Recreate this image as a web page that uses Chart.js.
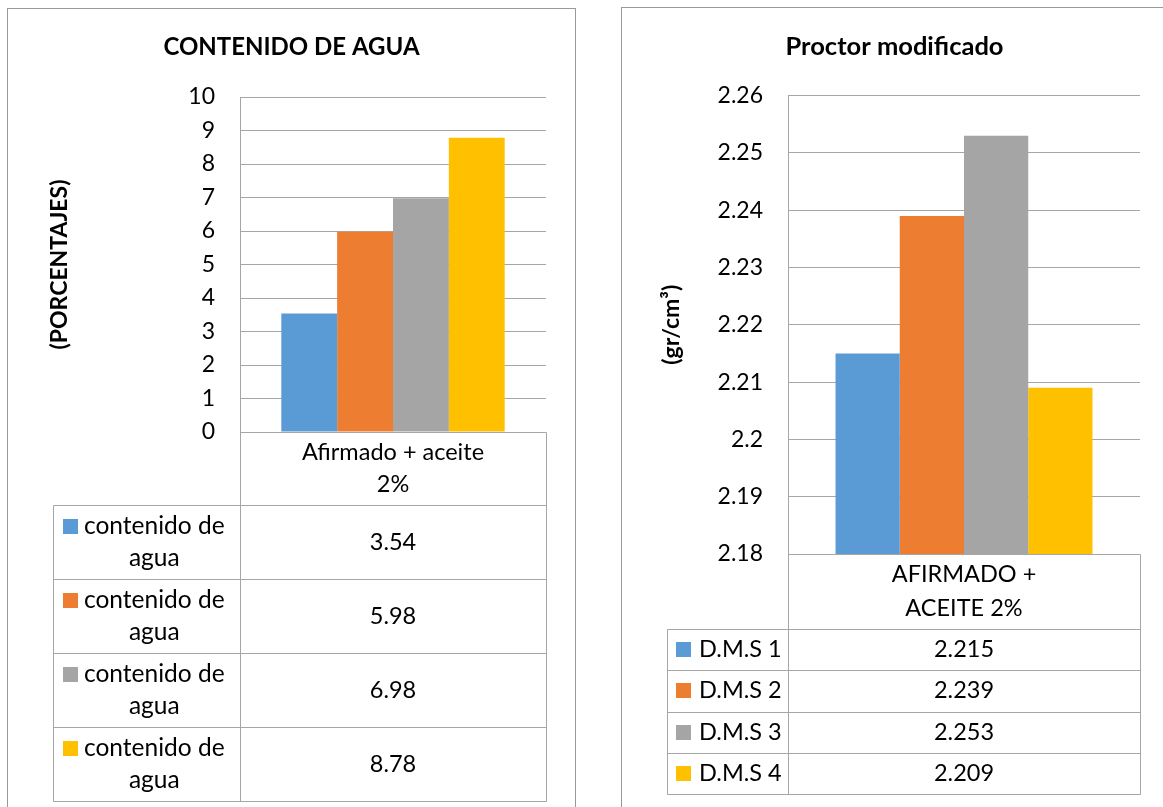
<!DOCTYPE html>
<html>
<head>
<meta charset="utf-8">
<title>Contenido de agua y Proctor modificado</title>
<script src="https://cdn.jsdelivr.net/npm/chart.js@4/dist/chart.umd.min.js"></script>
<style>
  html, body { margin: 0; padding: 0; background: #fff; width: 1163px; height: 807px; overflow: hidden; }
  .panel { position: absolute; border: 1px solid #9a9a9a; background: #fff; box-sizing: border-box; }
  #panelAgua { left: 7px; top: 8px; width: 569px; height: 830px; }
  #panelProctor { left: 621px; top: 7px; width: 580px; height: 830px; }
  .panel canvas { position: absolute; left: 0; top: 0; }
</style>
</head>
<body>
<div class="panel" id="panelAgua"><canvas id="chartAgua" width="567" height="800"></canvas></div>
<div class="panel" id="panelProctor"><canvas id="chartProctor" width="545" height="799"></canvas></div>

<script>
// ---- Data ----
const aguaCategories = [['Afirmado + aceite', '2%']];
const aguaSeriesNames = ['contenido de agua', 'contenido de agua', 'contenido de agua', 'contenido de agua'];
const aguaValues = [3.54, 5.98, 6.98, 8.78];
const aguaTicks = { min: 0, max: 10, step: 1 };

const proctorCategories = [['AFIRMADO +', 'ACEITE 2%']];
const proctorSeriesNames = ['D.M.S 1', 'D.M.S 2', 'D.M.S 3', 'D.M.S 4'];
const proctorValues = [2.215, 2.239, 2.253, 2.209];
const proctorTicks = { min: 2.18, max: 2.26, step: 0.01 };

const seriesColors = ['#5b9bd5', '#ed7d31', '#a5a5a5', '#ffc000'];

// ---- Styling ----
const FONT = 'Lato, "Open Sans", sans-serif';
const LINE = '#a6a6a6';
const TEXT = '#000000';

// Draws the data table (category header + one row per series) under the plot area.
const dataTablePlugin = {
  id: 'dataTable',
  afterDraw(chart, args, opts) {
    const { ctx, chartArea } = chart;
    const x0 = chartArea.left;
    const x1 = chartArea.right;
    const xl = opts.legendLeft;
    const top = chartArea.bottom;
    const headerBottom = top + opts.headerHeight;
    const n = chart.data.datasets.length;
    const bottom = headerBottom + n * opts.rowHeight;

    ctx.save();
    ctx.strokeStyle = LINE;
    ctx.lineWidth = 1;
    const line = (ax, ay, bx, by) => {
      ctx.beginPath();
      ctx.moveTo(Math.round(ax) + 0.5, Math.round(ay) + 0.5);
      ctx.lineTo(Math.round(bx) + 0.5, Math.round(by) + 0.5);
      ctx.stroke();
    };

    // grid of the table
    line(x0, top, x1, top);
    line(x0, top, x0, bottom);
    line(x1, top, x1, bottom);
    line(xl, headerBottom, xl, bottom);
    for (let i = 0; i <= n; i++) {
      const y = headerBottom + i * opts.rowHeight;
      line(xl, y, x1, y);
    }

    ctx.fillStyle = TEXT;
    ctx.textBaseline = 'middle';
    ctx.textAlign = 'center';

    // category header
    ctx.font = opts.fontSize + 'px ' + FONT;
    const cat = chart.data.labels[0];
    const catLines = Array.isArray(cat) ? cat : [cat];
    const cx = (x0 + x1) / 2;
    const hy = (top + headerBottom) / 2 - (catLines.length - 1) * opts.lineSpacing / 2;
    catLines.forEach((t, k) => ctx.fillText(t, cx, hy + k * opts.lineSpacing));

    // series rows
    const textLeft = xl + opts.swatchInset + opts.swatchSize + opts.swatchGap;
    const maxW = x0 - textLeft - 4;
    chart.data.datasets.forEach((ds, i) => {
      const rowTop = headerBottom + i * opts.rowHeight;
      const rowMid = rowTop + opts.rowHeight / 2;

      // wrap series name into the legend column
      ctx.font = opts.labelSize + 'px ' + FONT;
      const words = ds.label.split(' ');
      const lines = [];
      let cur = '';
      words.forEach(w => {
        const test = cur ? cur + ' ' + w : w;
        if (cur && ctx.measureText(test).width > maxW) { lines.push(cur); cur = w; }
        else cur = test;
      });
      if (cur) lines.push(cur);

      const blockW = Math.max(...lines.map(l => ctx.measureText(l).width));
      const firstY = rowMid - (lines.length - 1) * opts.lineSpacing / 2;
      ctx.fillStyle = ds.backgroundColor;
      ctx.fillRect(xl + opts.swatchInset, Math.round(firstY - opts.swatchSize / 2), opts.swatchSize, opts.swatchSize);
      ctx.fillStyle = TEXT;
      ctx.textAlign = 'center';
      lines.forEach((l, k) => ctx.fillText(l, textLeft + blockW / 2, firstY + k * opts.lineSpacing));

      // value cell
      ctx.font = opts.fontSize + 'px ' + FONT;
      ctx.fillText(String(ds.data[0]), cx, rowMid);
    });
    ctx.restore();
  }
};

function makeChart(id, cfg) {
  const datasets = cfg.values.map((v, i) => ({
    label: cfg.names[i],
    data: [v],
    backgroundColor: seriesColors[i],
    borderWidth: 0,
    categoryPercentage: 0.73,
    barPercentage: 1.0
  }));
  return new Chart(document.getElementById(id), {
    type: 'bar',
    data: { labels: cfg.categories, datasets },
    plugins: [dataTablePlugin],
    options: {
      responsive: false,
      animation: false,
      events: [],
      // equal side padding keeps the title centred on the whole panel
      layout: { padding: { left: cfg.padSide, right: cfg.padSide, top: 0, bottom: cfg.padBottom } },
      plugins: {
        legend: { display: false },
        tooltip: { enabled: false },
        title: {
          display: true,
          text: cfg.title,
          color: TEXT,
          font: { family: FONT, size: cfg.titleSize, weight: 'bold', lineHeight: 1.2 },
          padding: { top: cfg.titleTop, bottom: cfg.titleBottom }
        },
        dataTable: cfg.table
      },
      scales: {
        x: { display: false },
        y: {
          min: cfg.ticks.min,
          max: cfg.ticks.max,
          afterFit(scale) { scale.width = cfg.axisWidth; },
          ticks: {
            stepSize: cfg.ticks.step,
            padding: 25,
            color: TEXT,
            font: { family: FONT, size: 23 },
            callback: v => String(Number(Number(v).toFixed(3)))
          },
          grid: { color: LINE, drawTicks: false },
          border: { display: true, color: LINE },
          title: {
            display: true,
            text: cfg.axisTitle,
            color: TEXT,
            font: { family: FONT, size: 23, weight: 'bold', lineHeight: 1.2 },
            padding: { top: cfg.axisTitleTop, bottom: 0 }
          }
        }
      }
    }
  });
}

makeChart('chartAgua', {
  categories: aguaCategories,
  names: aguaSeriesNames,
  values: aguaValues,
  ticks: aguaTicks,
  title: 'CONTENIDO DE AGUA',
  titleSize: 24,
  axisTitle: '(PORCENTAJES)',
  axisWidth: 203,
  axisTitleTop: 8.7,
  padSide: 29,
  padBottom: 377,
  titleTop: 24,
  titleBottom: 35.2,
  table: { legendLeft: 45, headerHeight: 73, rowHeight: 74, lineSpacing: 32, fontSize: 23.5, labelSize: 24.5,
           swatchInset: 10, swatchSize: 15, swatchGap: 6 }
});

makeChart('chartProctor', {
  categories: proctorCategories,
  names: proctorSeriesNames,
  values: proctorValues,
  ticks: proctorTicks,
  title: 'Proctor modificado',
  titleSize: 25.5,
  axisTitle: '(gr/cm³)',
  axisWidth: 139,
  axisTitleTop: 9.2,
  padSide: 27,
  padBottom: 253,
  titleTop: 23,
  titleBottom: 34,
  table: { legendLeft: 45, headerHeight: 75, rowHeight: 41.25, lineSpacing: 34, fontSize: 23.5, labelSize: 23.5,
           swatchInset: 9, swatchSize: 15, swatchGap: 8 }
});
</script>
</body>
</html>
